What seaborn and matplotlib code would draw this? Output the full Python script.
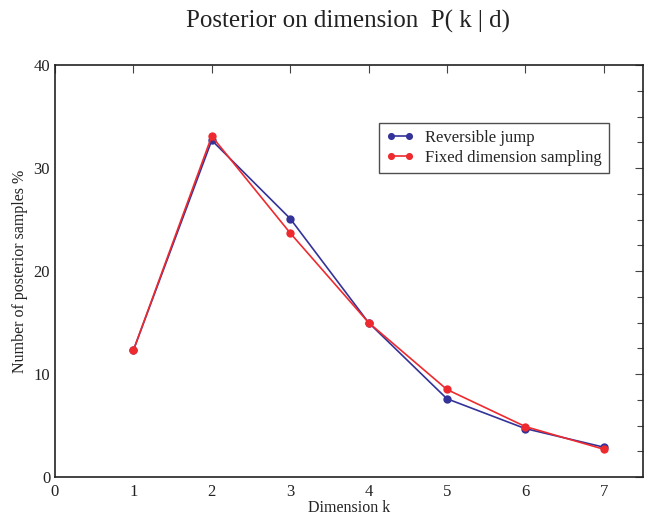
import matplotlib
matplotlib.use("Agg")
import matplotlib.pyplot as plt
import seaborn as sns
import pandas as pd
from matplotlib.ticker import MultipleLocator

dims = [1, 2, 3, 4, 5, 6, 7]
reversible_jump = [12.3, 32.7, 25.1, 15.0, 7.6, 4.7, 2.9]
fixed_dimension = [12.3, 33.1, 23.7, 15.0, 8.5, 4.9, 2.7]
series_names = ["Reversible jump", "Fixed dimension sampling"]

df = pd.concat([
    pd.DataFrame({"k": dims, "value": reversible_jump, "series": series_names[0]}),
    pd.DataFrame({"k": dims, "value": fixed_dimension, "series": series_names[1]}),
])

sns.set_theme(style="white")
plt.rcParams["font.family"] = ["Liberation Serif", "DejaVu Serif"]

fig = plt.figure(figsize=(6.5, 5.17), dpi=100)
ax = fig.add_axes([0.0846, 0.0774, 0.9044, 0.7966])

palette = {series_names[0]: "#333399", series_names[1]: "#ee2a2e"}
sns.lineplot(data=df, x="k", y="value", hue="series", palette=palette,
             marker="o", markersize=6, markeredgewidth=0, linewidth=1.2,
             ax=ax, sort=False)

ax.set_xlim(0, 7.5)
ax.set_ylim(0, 40)
ax.xaxis.set_major_locator(MultipleLocator(1))
ax.yaxis.set_major_locator(MultipleLocator(10))
ax.yaxis.set_minor_locator(MultipleLocator(2.5))
ax.tick_params(which="both", direction="in", top=True, right=True,
               labelsize=12, colors="#444444", labelcolor="#222222")
ax.tick_params(which="major", length=6, width=0.8)
ax.tick_params(which="minor", length=4, width=0.8)
ax.tick_params(axis="x", pad=5)
for s in ax.spines.values():
    s.set_color("#222222")
    s.set_linewidth(1.2)

ax.set_xlabel("Dimension k", fontsize=11.5, labelpad=0, color="#222222")
ax.set_ylabel("Number of posterior samples %", fontsize=11.5, labelpad=4, color="#222222")

leg = ax.legend(loc="upper left", bbox_to_anchor=(0.551, 0.859), borderaxespad=0,
                fontsize=12, numpoints=2, markerscale=0.85,
                frameon=True, fancybox=False, edgecolor="#222222",
                handlelength=1.7, borderpad=0.42, labelspacing=0.2, handletextpad=0.65)
leg.get_frame().set_linewidth(1.0)

fig.text(0.535, 0.958, "Posterior on dimension  P( k | d)", ha="center", va="center",
         fontsize=18, color="#222222")

fig.savefig("out.png", dpi=100)
